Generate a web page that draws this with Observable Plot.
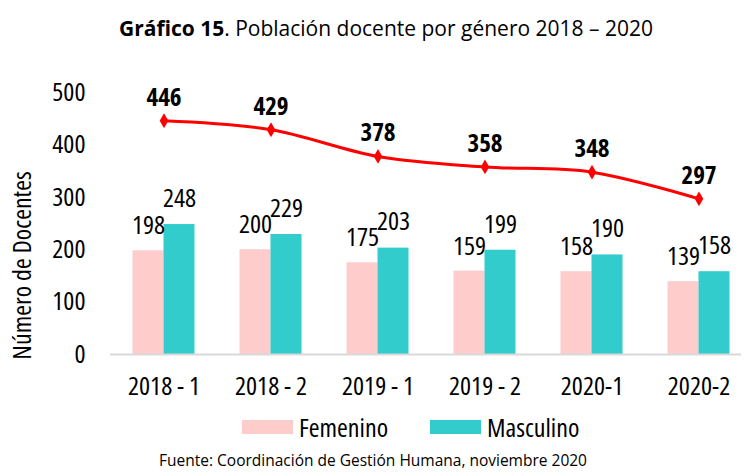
<!DOCTYPE html>
<html>
<head>
<meta charset="utf-8">
<script src="https://cdn.jsdelivr.net/npm/d3@7"></script>
<script src="https://cdn.jsdelivr.net/npm/@observablehq/plot@0.6"></script>
<style>
  body { margin: 0; background: #fff; width: 746px; height: 473px; overflow: hidden;
         font-family: "Open Sans", sans-serif; font-stretch: 75%; color: #000; }
  svg, svg text { font-stretch: 75%; }
  #title { height: 56px; line-height: 56px; font-size: 21px; font-stretch: 100%; text-align: center; padding-left: 26px; white-space: nowrap; }
  #legend { position: relative; height: 42px; }
  .item { position: absolute; top: 0; height: 42px; display: flex; align-items: center; font-size: 26px; }
  .sw { width: 51px; height: 14px; margin-right: 6px; }
  #caption { height: 25px; line-height: 25px; font-size: 15.5px; font-stretch: 100%; text-align: center; }
</style>
</head>
<body>
<div id="title"><b>Gráfico 15</b>. Población docente por género 2018 – 2020</div>
<div id="chart"></div>
<div id="legend">
  <div class="item" style="left:242px"><div class="sw" style="background:#FFCCCC"></div>Femenino</div>
  <div class="item" style="left:430px"><div class="sw" style="background:#33CCCC"></div>Masculino</div>
</div>
<div id="caption">Fuente: Coordinación de Gestión Humana, noviembre 2020</div>
<script>
const periods = ["2018 - 1", "2018 - 2", "2019 - 1", "2019 - 2", "2020-1", "2020-2"];
const femenino = [198, 200, 175, 159, 158, 139];
const masculino = [248, 229, 203, 199, 190, 158];
const total = [446, 429, 378, 358, 348, 297];
const yTicks = [0, 100, 200, 300, 400, 500];

const rows = periods.map((p, i) => ({period: p, fem: femenino[i], masc: masculino[i], total: total[i]}));
const font = '"Open Sans", sans-serif';

const chart = Plot.plot({
  width: 746,
  height: 350,
  marginTop: 36,
  marginBottom: 52,
  marginLeft: 110,
  marginRight: 5,
  style: {fontFamily: font, fontSize: "26px", color: "#000", background: "#fff"},
  x: {domain: periods, range: [110, 752], paddingInner: 0.71, paddingOuter: 0.355},
  y: {domain: [0, 500], range: [298, 36]},
  marks: [
    Plot.axisY({ticks: yTicks, tickSize: 0, tickPadding: 25, fontSize: 26, label: null}),
    Plot.axisX({tickSize: 0, tickPadding: 22, fontSize: 26, label: null}),
    Plot.text(["Número de Docentes"], {frameAnchor: "left", dx: -88, dy: 42, rotate: -90, textAnchor: "middle", fontSize: 26}),
    Plot.barY(rows, {x: "period", y: "fem", fill: "#FFCCCC", dx: -15.5}),
    Plot.barY(rows, {x: "period", y: "masc", fill: "#33CCCC", dx: 15.5}),
    Plot.ruleY([0], {stroke: "#d9d9d9", strokeWidth: 2}),
    Plot.text(rows, {x: "period", y: "fem", text: d => String(d.fem), dx: -15.5, dy: -25, fontSize: 26}),
    Plot.text(rows, {x: "period", y: "masc", text: d => String(d.masc), dx: 15.5, dy: -26, fontSize: 26}),
    Plot.lineY(rows, {x: "period", y: "total", stroke: "#FF0000", strokeWidth: 3, curve: "catmull-rom"}),
    Plot.dot(rows, {x: "period", y: "total", symbol: "diamond", fill: "#FF0000", r: 4.5}),
    Plot.text(rows, {x: "period", y: "total", text: d => String(d.total), dy: -23, fontSize: 25, fontWeight: "bold"})
  ]
});
document.getElementById("chart").appendChild(chart);
</script>
</body>
</html>
